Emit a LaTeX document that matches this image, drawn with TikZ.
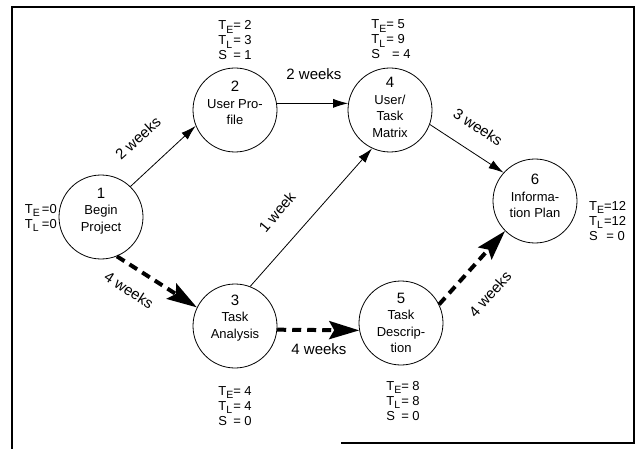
\documentclass[tikz,border=0pt]{standalone}
\usepackage{fontspec}
\setmainfont{Liberation Sans}
\usetikzlibrary{arrows.meta}
\newcommand\Tsub[1]{T\raisebox{-0.45ex}{\fontsize{10.5}{10.5}\selectfont #1}}
\newcommand\bignum{\fontsize{15}{16.5}\selectfont}
\begin{document}
\begin{tikzpicture}[x=1pt,y=-1pt,
  ev/.style={circle, draw, line width=0.8pt, minimum size=84pt, inner sep=0pt},
  evtext/.style={anchor=base, inner sep=0pt, font=\fontsize{13}{16.5}\selectfont},
  tinfo/.style={inner sep=0pt, font=\fontsize{13}{15}\selectfont},
  slackarrow/.style={line width=0.8pt, -{Latex[length=15pt,width=9pt]}},
  critarrow/.style={line width=4pt, dash pattern=on 9pt off 6pt, -{Stealth[length=30pt,width=18pt,inset=5pt]}},
  wk/.style={inner sep=0pt, font=\fontsize{15}{17}\selectfont},
  frame/.style={line width=1.1pt}]
\useasboundingbox (0,0) rectangle (642,449);
% frame
\coordinate (ftl) at (12,7);
\coordinate (ftr) at (634,7);
\coordinate (fbl) at (12,449);
\coordinate (fbr) at (634,443);
\coordinate (fbm) at (341,443);
\draw[frame] (fbl) -- (ftl) -- (ftr) -- (fbr) -- (fbm);
% events
\node[ev] (n1) at (101,217) {};
\node[ev] (n2) at (235,110) {};
\node[ev] (n4) at (390,110) {};
\node[ev] (n6) at (535,201) {};
\node[ev] (n3) at (235,326) {};
\node[ev] (n5) at (401,323) {};
% event texts
\node[evtext] (t1) at (101,198) {\begin{tabular}[t]{@{}c@{}}\bignum 1\\Begin\\Project\end{tabular}};
\node[evtext] (t2) at (235,92) {\begin{tabular}[t]{@{}c@{}}\bignum 2\\User Pro-\\file\end{tabular}};
\node[evtext] (t4) at (390,88) {\begin{tabular}[t]{@{}c@{}}\bignum 4\\User/\\Task\\Matrix\end{tabular}};
\node[evtext] (t6) at (535,185) {\begin{tabular}[t]{@{}c@{}}\bignum 6\\Informa-\\tion Plan\end{tabular}};
\node[evtext] (t3) at (235,305) {\begin{tabular}[t]{@{}c@{}}\bignum 3\\Task\\Analysis\end{tabular}};
\node[evtext] (t5) at (401,303) {\begin{tabular}[t]{@{}c@{}}\bignum 5\\Task\\Descrip-\\tion\end{tabular}};
% times
\node[tinfo, anchor=base east] (i1) at (57,213) {\begin{tabular}[t]{@{}l@{}l@{}}\Tsub{E} & \,=0\\\Tsub{L} & \,=0\end{tabular}};
\node[tinfo, anchor=base] (i2) at (235,30) {\begin{tabular}[t]{@{}l@{}l@{}}\Tsub{E} & = 2\\\Tsub{L} & = 3\\S & = 1\end{tabular}};
\node[tinfo, anchor=base] (i4) at (391,29) {\begin{tabular}[t]{@{}l@{}l@{}}\Tsub{E} & = 5\\\Tsub{L} & = 9\\S & \, = 4\end{tabular}};
\node[tinfo, anchor=base west] (i6) at (589,210) {\begin{tabular}[t]{@{}l@{}l@{}}\Tsub{E} & =12\\\Tsub{L} & =12\\S & \,= 0\end{tabular}};
\node[tinfo, anchor=base] (i3) at (235,395) {\begin{tabular}[t]{@{}l@{}l@{}}\Tsub{E} & = 4\\\Tsub{L} & = 4\\S & = 0\end{tabular}};
\node[tinfo, anchor=base] (i5) at (403,390) {\begin{tabular}[t]{@{}l@{}l@{}}\Tsub{E} & = 8\\\Tsub{L} & = 8\\S & = 0\end{tabular}};
% activities
\draw[slackarrow] (n1.46) -- (n2.202);
\draw[slackarrow] (n2.9) -- (n4.171);
\draw[slackarrow] (n4.-20) -- (n6.138);
\draw[slackarrow] (n3.69) -- (n4.245);
\draw[critarrow] (n1.-68) -- (n3.154);
\draw[critarrow] (n3.-5) -- (n5.190);
\draw[critarrow] (n5.26) -- (n6.225);
% durations
\node[wk, rotate=42] (w12) at (138,138) {2 weeks};
\node[wk] (w24) at (314,74) {2 weeks};
\node[wk, rotate=-33] (w46) at (478,127) {3 weeks};
\node[wk, rotate=50] (w34) at (277,212) {1 week};
\node[wk, rotate=-33] (w13) at (129,290) {4 weeks};
\node[wk] (w35) at (319,349) {4 weeks};
\node[wk, rotate=48] (w56) at (490,294) {4 weeks};
\end{tikzpicture}
\end{document}
